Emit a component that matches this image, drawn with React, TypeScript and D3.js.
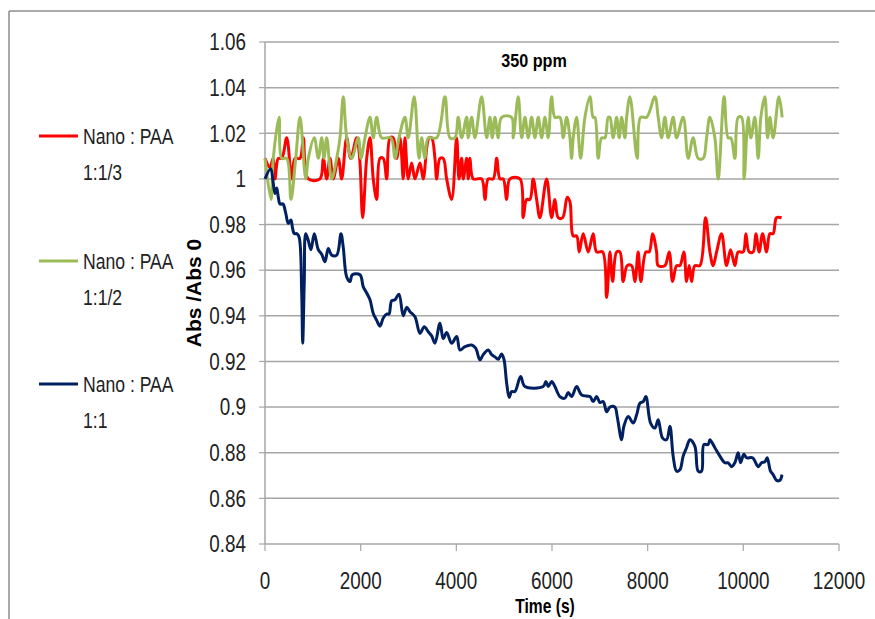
import React from 'react';
import * as d3 from 'd3';

// axis ticks
const xTicks = [0, 2000, 4000, 6000, 8000, 10000, 12000];
const yTicks = [0.84, 0.86, 0.88, 0.9, 0.92, 0.94, 0.96, 0.98, 1, 1.02, 1.04, 1.06];

// Nano : PAA 1:1/3 (red)
const redTime = [0, 105, 167, 209, 278, 349, 454, 558, 627, 732, 800, 905, 1150, 1218, 1290, 1359, 1427, 1532, 1603, 1708, 1791, 1917, 1979, 2042, 2126, 2195, 2263, 2335, 2404, 2472, 2544, 2613, 2681, 2753, 2822, 2890, 2926, 2995, 3066, 3135, 3240, 3308, 3428, 3484, 3553, 3589, 3658, 3726, 3798, 3902, 4007, 4055, 4111, 4145, 4216, 4249, 4285, 4353, 4529, 4598, 4667, 4771, 4843, 4912, 4980, 5052, 5121, 5330, 5398, 5470, 5539, 5607, 5679, 5748, 5888, 5992, 6061, 6130, 6222, 6318, 6375, 6443, 6515, 6569, 6652, 6757, 6861, 6933, 7058, 7142, 7211, 7267, 7351, 7420, 7488, 7572, 7664, 7733, 7802, 7858, 7963, 8032, 8103, 8187, 8220, 8360, 8450, 8521, 8605, 8674, 8757, 8813, 8868, 8918, 8987, 9092, 9211, 9301, 9369, 9441, 9545, 9649, 9733, 9823, 9892, 9997, 10053, 10122, 10205, 10262, 10331, 10402, 10486, 10555, 10623, 10694, 10799];
const redAbs = [1.009, 1.005, 1.009, 1.0, 1.009, 1.009, 1.018, 1.0, 1.009, 1.009, 1.018, 1.0, 1.0, 1.009, 1.0, 1.009, 1.0, 1.009, 1.0, 1.018, 1.009, 1.018, 1.009, 0.983, 1.009, 1.018, 1.0, 0.991, 1.009, 1.009, 1.0, 1.018, 1.018, 1.009, 1.018, 1.0, 1.018, 1.0, 1.007, 1.0, 1.007, 1.0, 1.018, 1.018, 1.009, 1.0, 1.009, 1.009, 1.0, 0.991, 1.018, 1.0, 1.009, 1.0, 1.009, 1.0, 1.009, 1.0, 1.0, 0.991, 1.0, 1.0, 1.009, 1.0, 1.0, 0.991, 1.0, 1.0, 0.983, 0.991, 0.991, 1.0, 0.991, 0.983, 1.0, 0.983, 0.991, 0.983, 0.983, 0.992, 0.99, 0.975, 0.975, 0.968, 0.976, 0.968, 0.976, 0.968, 0.968, 0.948, 0.968, 0.955, 0.968, 0.968, 0.955, 0.962, 0.962, 0.955, 0.968, 0.955, 0.968, 0.968, 0.976, 0.968, 0.962, 0.962, 0.968, 0.955, 0.962, 0.962, 0.968, 0.955, 0.962, 0.955, 0.962, 0.962, 0.983, 0.968, 0.962, 0.968, 0.976, 0.962, 0.969, 0.962, 0.968, 0.968, 0.976, 0.968, 0.968, 0.976, 0.968, 0.976, 0.968, 0.976, 0.976, 0.983, 0.983];

// Nano : PAA 1:1/2 (green)
const greenTime = [0, 125, 173, 293, 349, 454, 543, 642, 732, 851, 905, 1030, 1114, 1185, 1233, 1290, 1394, 1499, 1568, 1636, 1708, 1812, 1950, 2006, 2090, 2195, 2263, 2335, 2439, 2633, 2717, 2801, 2926, 2995, 3120, 3219, 3275, 3344, 3413, 3589, 3762, 3867, 3971, 4040, 4111, 4216, 4249, 4320, 4389, 4529, 4634, 4703, 4751, 4807, 4876, 4947, 5156, 5189, 5294, 5365, 5434, 5503, 5574, 5643, 5712, 5783, 5852, 5921, 5992, 6061, 6166, 6234, 6306, 6375, 6410, 6443, 6515, 6598, 6688, 6793, 6861, 6897, 6966, 7037, 7106, 7175, 7211, 7279, 7351, 7405, 7455, 7524, 7560, 7629, 7781, 7852, 7978, 8151, 8220, 8291, 8360, 8429, 8533, 8604, 8742, 8847, 8951, 9056, 9160, 9232, 9300, 9405, 9474, 9599, 9683, 9739, 9823, 9892, 9963, 10017, 10101, 10157, 10241, 10310, 10366, 10450, 10506, 10555, 10624, 10743, 10812];
const greenAbs = [1.009, 0.991, 1.009, 1.027, 1.009, 1.009, 0.991, 1.009, 1.027, 1.0, 1.009, 1.018, 1.009, 1.018, 1.009, 1.018, 1.0, 1.009, 1.018, 1.036, 1.018, 1.009, 1.018, 1.009, 1.018, 1.027, 1.018, 1.027, 1.018, 1.018, 1.009, 1.018, 1.027, 1.018, 1.036, 1.009, 1.018, 1.009, 1.018, 1.018, 1.036, 1.018, 1.018, 1.027, 1.018, 1.027, 1.018, 1.027, 1.018, 1.036, 1.018, 1.027, 1.018, 1.027, 1.018, 1.027, 1.027, 1.018, 1.036, 1.018, 1.027, 1.018, 1.027, 1.018, 1.027, 1.018, 1.027, 1.018, 1.036, 1.027, 1.027, 1.018, 1.027, 1.018, 1.009, 1.018, 1.027, 1.009, 1.027, 1.036, 1.027, 1.027, 1.009, 1.018, 1.018, 1.027, 1.027, 1.018, 1.027, 1.018, 1.027, 1.018, 1.027, 1.036, 1.009, 1.027, 1.027, 1.036, 1.027, 1.018, 1.027, 1.018, 1.027, 1.018, 1.027, 1.009, 1.018, 1.009, 1.009, 1.018, 1.027, 1.018, 1.0, 1.036, 1.018, 1.018, 1.009, 1.027, 1.027, 1.0, 1.027, 1.018, 1.027, 1.009, 1.027, 1.036, 1.018, 1.027, 1.018, 1.036, 1.027];

// Nano : PAA 1:1 (navy)
const navyTime = [0, 119, 167, 209, 245, 278, 314, 376, 433, 487, 543, 571, 612, 663, 711, 767, 788, 821, 851, 905, 961, 1030, 1114, 1185, 1254, 1323, 1394, 1499, 1588, 1636, 1708, 1777, 1825, 1986, 2054, 2126, 2195, 2263, 2335, 2404, 2472, 2544, 2592, 2648, 2717, 2801, 2890, 2962, 3031, 3135, 3240, 3329, 3413, 3484, 3553, 3658, 3726, 3798, 3902, 4007, 4076, 4180, 4320, 4404, 4494, 4563, 4668, 4738, 4807, 4876, 4947, 4995, 5052, 5106, 5156, 5225, 5344, 5434, 5816, 5873, 5921, 5992, 6061, 6166, 6270, 6339, 6410, 6515, 6619, 6793, 6861, 6933, 7002, 7071, 7142, 7211, 7315, 7363, 7455, 7503, 7593, 7697, 7769, 7838, 7907, 7963, 8061, 8151, 8220, 8312, 8396, 8465, 8533, 8604, 8674, 8742, 8813, 8883, 8987, 9056, 9127, 9175, 9265, 9301, 9405, 9510, 9614, 9683, 9754, 9823, 9892, 9942, 10011, 10068, 10193, 10310, 10381, 10450, 10498, 10569, 10623, 10694, 10765, 10808];
const navyAbs = [1.0, 1.0045, 0.999, 0.9936, 0.996, 0.992, 0.989, 0.989, 0.985, 0.9805, 0.982, 0.979, 0.976, 0.976, 0.9746, 0.95, 0.928, 0.955, 0.976, 0.973, 0.969, 0.976, 0.969, 0.967, 0.9637, 0.9695, 0.9666, 0.9666, 0.976, 0.97, 0.957, 0.955, 0.958, 0.958, 0.9527, 0.95, 0.947, 0.941, 0.938, 0.9355, 0.939, 0.9408, 0.9408, 0.9466, 0.947, 0.9495, 0.94, 0.9437, 0.9418, 0.9396, 0.9323, 0.9352, 0.933, 0.9312, 0.928, 0.9367, 0.93, 0.9327, 0.928, 0.9309, 0.925, 0.9265, 0.9272, 0.9258, 0.9207, 0.923, 0.925, 0.923, 0.922, 0.921, 0.9233, 0.921, 0.9105, 0.9042, 0.9068, 0.9068, 0.9134, 0.909, 0.909, 0.9112, 0.909, 0.9112, 0.909, 0.9046, 0.9039, 0.9064, 0.9046, 0.909, 0.9053, 0.9046, 0.9024, 0.9046, 0.902, 0.9024, 0.898, 0.9, 0.9, 0.8959, 0.8857, 0.8916, 0.8959, 0.893, 0.8966, 0.9017, 0.9024, 0.9046, 0.893, 0.8908, 0.8944, 0.8864, 0.8857, 0.8916, 0.8785, 0.8719, 0.8725, 0.8785, 0.8822, 0.8857, 0.8829, 0.8719, 0.8719, 0.8836, 0.8836, 0.8857, 0.8822, 0.8785, 0.8756, 0.8756, 0.8739, 0.8756, 0.88, 0.8756, 0.8793, 0.8778, 0.8778, 0.8739, 0.8756, 0.876, 0.8778, 0.8719, 0.8704, 0.8679, 0.8679, 0.8704];

const series = [
  { label: '1:1/3', time: redTime, abs: redAbs, color: '#FF0000', legendY: 136 },
  { label: '1:1/2', time: greenTime, abs: greenAbs, color: '#9BBB59', legendY: 261 },
  { label: '1:1', time: navyTime, abs: navyAbs, color: '#002060', legendY: 384 },
];

const font = "'Liberation Sans', Arial, sans-serif";

// the reference uses a tall, narrow face; squeeze a regular one horizontally
const Narrow = ({ x, y, sx = 0.85, rotate = 0, children, ...rest }: any) => (
  <text
    transform={`translate(${x},${y}) rotate(${rotate}) scale(${sx},1)`}
    dy="0.36em"
    {...rest}
  >
    {children}
  </text>
);

const App = () => {
  const left = 265;
  const right = 839;
  const top = 42;
  const bottom = 544;

  const x = d3.scaleLinear().domain([0, 12000]).range([left, right]);
  const y = d3.scaleLinear().domain([0.84, 1.06]).range([bottom, top]);

  const line = d3
    .line<[number, number]>()
    .x((d) => x(d[0]))
    .y((d) => y(d[1]))
    .curve(d3.curveCatmullRom.alpha(0.5));

  return (
    <svg
      width={875}
      height={619}
      style={{ position: 'absolute', left: 0, top: 0, background: '#fff' }}
      fontFamily={font}
    >
      {/* outer frame */}
      <line x1={9} x2={875} y1={11} y2={11} stroke="#8c8c8c" strokeWidth={1.5} />
      <line x1={9} x2={9} y1={11} y2={619} stroke="#8c8c8c" strokeWidth={1.5} />

      {/* gridlines */}
      {yTicks.map((t) => (
        <line key={t} x1={left} x2={right} y1={y(t)} y2={y(t)} stroke="#a6a6a6" strokeWidth={1.5} />
      ))}
      <line x1={left} x2={left} y1={top} y2={bottom} stroke="#a6a6a6" strokeWidth={1.5} />

      {/* y ticks + labels */}
      {yTicks.map((t) => (
        <g key={'y' + t}>
          <line x1={left - 6} x2={left} y1={y(t)} y2={y(t)} stroke="#a6a6a6" strokeWidth={1.2} />
          <Narrow x={246} y={y(t)} sx={0.82} textAnchor="end" fontSize={23} fill="#222">
            {String(+t.toFixed(2))}
          </Narrow>
        </g>
      ))}

      {/* x ticks + labels */}
      {xTicks.map((t) => (
        <g key={'x' + t}>
          <line x1={x(t)} x2={x(t)} y1={bottom} y2={bottom + 7} stroke="#a6a6a6" strokeWidth={1.2} />
          <Narrow x={x(t)} y={581} sx={0.82} textAnchor="middle" fontSize={23} fill="#222">
            {t}
          </Narrow>
        </g>
      ))}

      {/* series */}
      {series.map((s) => (
        <path
          key={s.label}
          d={line(s.time.map((t, i) => [t, s.abs[i]] as [number, number])) || ''}
          fill="none"
          stroke={s.color}
          strokeWidth={3}
          strokeLinejoin="round"
        />
      ))}

      {/* titles */}
      <Narrow x={534} y={60} sx={0.85} textAnchor="middle" fontSize={19} fontWeight="bold" fill="#000">
        350 ppm
      </Narrow>
      <Narrow x={545} y={606} sx={0.78} textAnchor="middle" fontSize={20} fontWeight="bold" fill="#000">
        Time (s)
      </Narrow>
      <Narrow x={193} y={293} rotate={-90} sx={1} textAnchor="middle" fontSize={21} fontWeight="bold" fill="#000">
        Abs /Abs 0
      </Narrow>

      {/* legend */}
      {series.map((s) => (
        <g key={'lg' + s.label}>
          <line x1={39} x2={78} y1={s.legendY} y2={s.legendY} stroke={s.color} strokeWidth={3} />
          <Narrow x={83} y={s.legendY} sx={0.8} fontSize={22} fill="#222">
            Nano : PAA
          </Narrow>
          <Narrow x={83} y={s.legendY + 36} sx={0.8} fontSize={22} fill="#222">
            {s.label}
          </Narrow>
        </g>
      ))}
    </svg>
  );
};

export default App;
